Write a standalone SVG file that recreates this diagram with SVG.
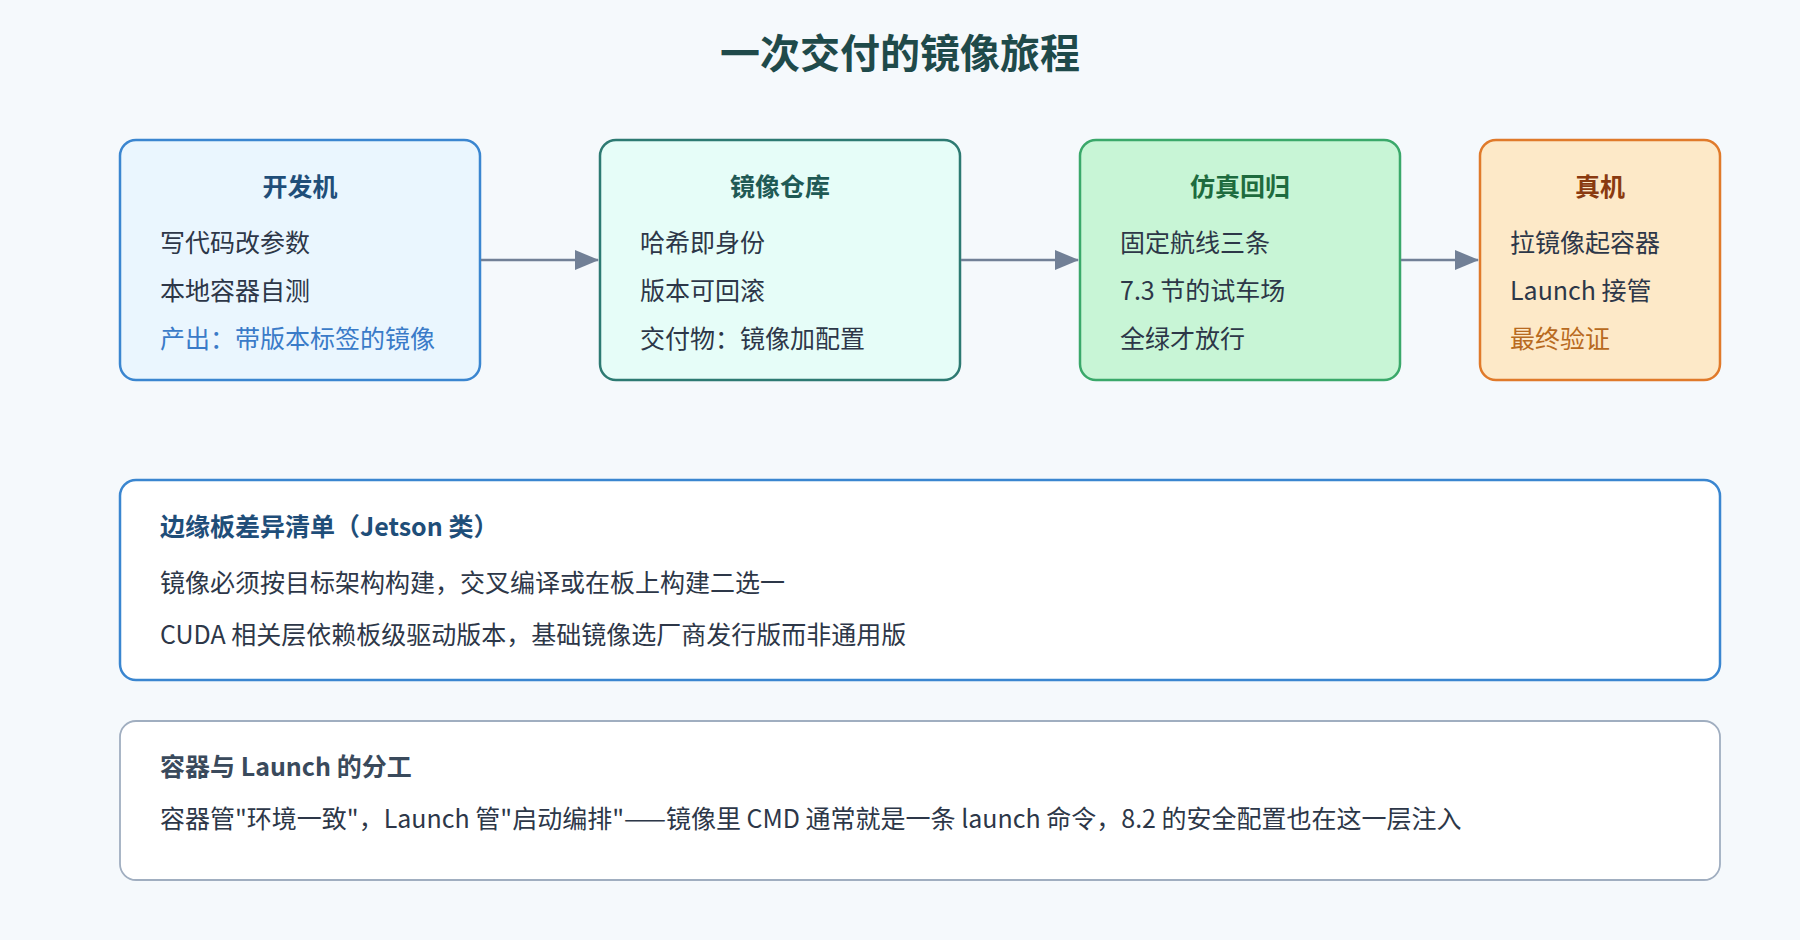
<svg xmlns="http://www.w3.org/2000/svg" width="1800" height="940" viewBox="0 0 1800 940">
<style>
text{font-family:"Noto Sans CJK SC","Noto Sans",sans-serif;}
.t{font-size:25px;font-weight:bold;text-anchor:middle}
.b{font-size:25px;fill:#2d3748}
.h{font-size:25px;font-weight:bold}
</style>
<defs><marker id="a" markerWidth="24" markerHeight="20" refX="23" refY="10" orient="auto" markerUnits="userSpaceOnUse"><path d="M0,0L24,10L0,20z" fill="#718096"/></marker></defs>
<rect width="1800" height="940" fill="#f5f9fc"/>
<text x="900" y="68" font-size="40" font-weight="bold" text-anchor="middle" fill="#1f4a4a">一次交付的镜像旅程</text>
<g id="n1"><rect x="120" y="140" width="360" height="240" rx="16" fill="#eaf6fe" stroke="#3a86d0" stroke-width="2.5"/>
<text class="t" x="300" y="196" fill="#1f4e79">开发机</text>
<text class="b" x="160" y="252">写代码改参数</text><text class="b" x="160" y="300">本地容器自测</text><text class="b" x="160" y="348" style="fill:#3a7bc8">产出：带版本标签的镜像</text></g>
<g id="n2"><rect x="600" y="140" width="360" height="240" rx="16" fill="#e6fdf8" stroke="#2d7a72" stroke-width="2.5"/>
<text class="t" x="780" y="196" fill="#1f5a55">镜像仓库</text>
<text class="b" x="640" y="252">哈希即身份</text><text class="b" x="640" y="300">版本可回滚</text><text class="b" x="640" y="348">交付物：镜像加配置</text></g>
<g id="n3"><rect x="1080" y="140" width="320" height="240" rx="16" fill="#c8f5d6" stroke="#3aa86a" stroke-width="2.5"/>
<text class="t" x="1240" y="196" fill="#1e6b3e">仿真回归</text>
<text class="b" x="1120" y="252">固定航线三条</text><text class="b" x="1120" y="300">7.3 节的试车场</text><text class="b" x="1120" y="348">全绿才放行</text></g>
<g id="n4"><rect x="1480" y="140" width="240" height="240" rx="16" fill="#fde9c8" stroke="#e07a2a" stroke-width="2.5"/>
<text class="t" x="1600" y="196" fill="#8a3a10">真机</text>
<text class="b" x="1510" y="252">拉镜像起容器</text><text class="b" x="1510" y="300">Launch 接管</text><text class="b" x="1510" y="348" style="fill:#b86a20">最终验证</text></g>
<g id="edges" stroke="#718096" stroke-width="2.5" marker-end="url(#a)">
<line x1="481" y1="260" x2="598" y2="260"/><line x1="961" y1="260" x2="1078" y2="260"/><line x1="1401" y1="260" x2="1478" y2="260"/></g>
<g id="n5"><rect x="120" y="480" width="1600" height="200" rx="16" fill="#fff" stroke="#3a86d0" stroke-width="2.5"/>
<text class="h" x="160" y="536" fill="#1f4e79">边缘板差异清单（Jetson 类）</text>
<text class="b" x="160" y="592">镜像必须按目标架构构建，交叉编译或在板上构建二选一</text>
<text class="b" x="160" y="644">CUDA 相关层依赖板级驱动版本，基础镜像选厂商发行版而非通用版</text></g>
<g id="n6"><rect x="120" y="721" width="1600" height="159" rx="16" fill="#fff" stroke="#a0aec0" stroke-width="1.8"/>
<text class="h" x="160" y="776" fill="#3a4a5c">容器与 Launch 的分工</text>
<text class="b" x="160" y="828">容器管"环境一致"，Launch 管"启动编排"——镜像里 CMD 通常就是一条 launch 命令，8.2 的安全配置也在这一层注入</text></g>
</svg>
